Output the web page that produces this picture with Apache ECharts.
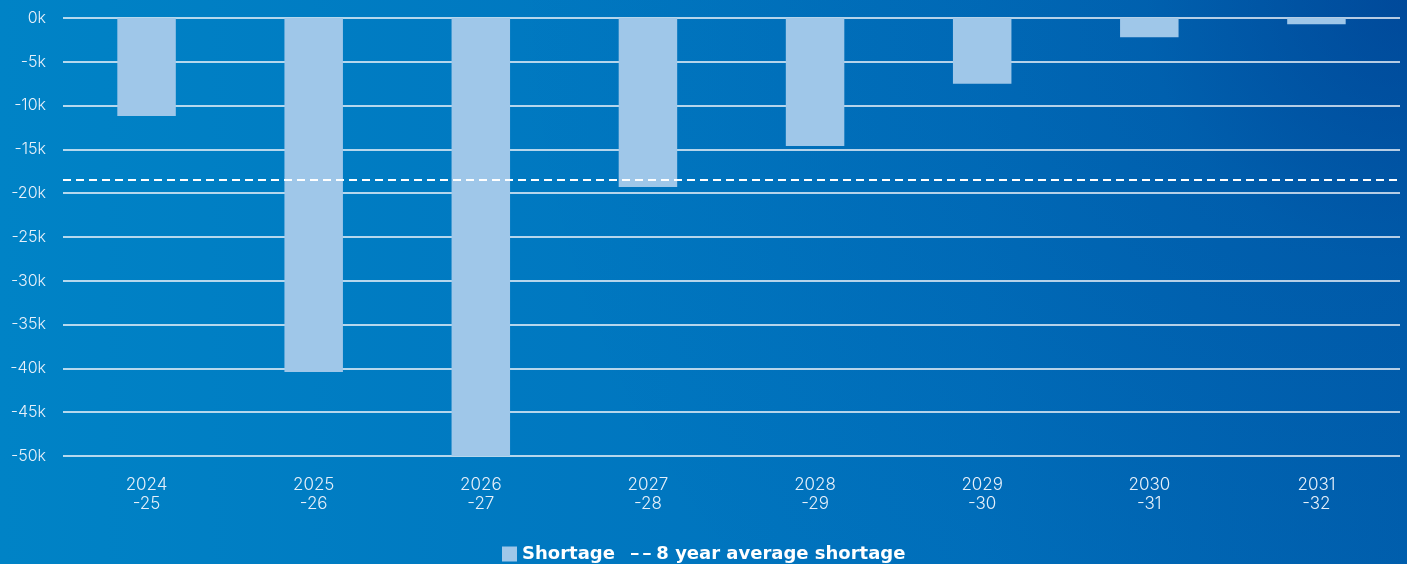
<!DOCTYPE html>
<html>
<head>
<meta charset="utf-8">
<script src="https://cdn.jsdelivr.net/npm/echarts@6/dist/echarts.min.js"></script>
<style>
  html, body { margin: 0; padding: 0; width: 1407px; height: 564px; overflow: hidden; }
  body {
    background:
      radial-gradient(circle 900px at 100% 0%, rgba(0, 35, 120, 0.39) 0%, rgba(0, 35, 120, 0.14) 29%, rgba(0, 35, 120, 0.03) 78%, rgba(0, 35, 120, 0) 100%),
      linear-gradient(90deg, #0083c6 0%, #0070bc 70%, #0062b0 100%);
  }
  #chart { width: 1407px; height: 564px; }
</style>
</head>
<body>
<div id="chart"></div>
<script>
// Financial years
const categories = ['2024\n-25', '2025\n-26', '2026\n-27', '2027\n-28', '2028\n-29', '2029\n-30', '2030\n-31', '2031\n-32'];
// Shortage per year, thousands
const shortage = [-11.2, -40.4, -50, -19.3, -14.6, -7.5, -2.2, -0.7];
// Average shortage across the eight years, thousands
const averageShortage = -18.5;
// Value axis range and step, thousands
const yMin = -50;
const yMax = 0;
const yStep = 5;

const fontFamily = 'Inter, "Open Sans", sans-serif';
const legendText = { color: '#ffffff', fontFamily: '"DejaVu Sans", Inter, sans-serif', fontWeight: 700, fontSize: 18 };
// Two short dashes centred in a 21x16 box (tiny corner dots fix the box size)
const dashIcon = 'path://M0,0h0.01v0.01h-0.01z M0,7h8v2h-8z M13,7h8v2h-8z M20.99,15.99h0.01v0.01h-0.01z';
const chart = echarts.init(document.getElementById('chart'), null, { renderer: 'canvas' });

chart.setOption({
  backgroundColor: 'transparent',
  animation: false,
  grid: { left: 63, right: 7, top: 18, bottom: 108, containLabel: false },
  legend: [
    {
      left: 502,
      top: 545,
      padding: 0,
      itemWidth: 15,
      itemHeight: 15,
      itemGap: 0,
      textStyle: legendText,
      data: [{ name: 'Shortage', icon: 'rect' }]
    },
    {
      left: 631,
      top: 545,
      padding: 0,
      itemWidth: 21,
      itemHeight: 15,
      textStyle: legendText,
      itemStyle: { color: '#ffffff' },
      data: [{ name: '8 year average shortage', icon: dashIcon }]
    }
  ],
  xAxis: {
    type: 'category',
    data: categories,
    position: 'bottom',
    axisLine: { show: false, onZero: false },
    axisTick: { show: false },
    axisLabel: {
      color: '#e6f0fa',
      fontFamily: fontFamily,
      fontWeight: 300,
      fontSize: 17,
      lineHeight: 19,
      margin: 19
    }
  },
  yAxis: {
    type: 'value',
    min: yMin,
    max: yMax,
    interval: yStep,
    axisLine: { show: false },
    axisTick: { show: false },
    axisLabel: {
      formatter: '{value}k',
      color: '#e6f0fa',
      fontFamily: fontFamily,
      fontWeight: 300,
      fontSize: 16,
      margin: 17
    },
    splitLine: { lineStyle: { color: '#f2f6fb', width: 1.5 } }
  },
  series: [
    {
      name: 'Shortage',
      type: 'bar',
      data: shortage,
      barWidth: '35%',
      itemStyle: { color: '#9fc7e9' },
      z: 2
    },
    {
      name: '8 year average shortage',
      type: 'line',
      data: [],
      symbol: 'none',
      lineStyle: { color: '#ffffff', width: 2, type: [8, 5] },
      itemStyle: { color: '#ffffff' },
      markLine: {
        silent: true,
        symbol: 'none',
        label: { show: false },
        lineStyle: { color: '#ffffff', width: 2, type: [8, 5] },
        data: [{ yAxis: averageShortage }]
      },
      z: 5
    }
  ]
});
</script>
</body>
</html>
